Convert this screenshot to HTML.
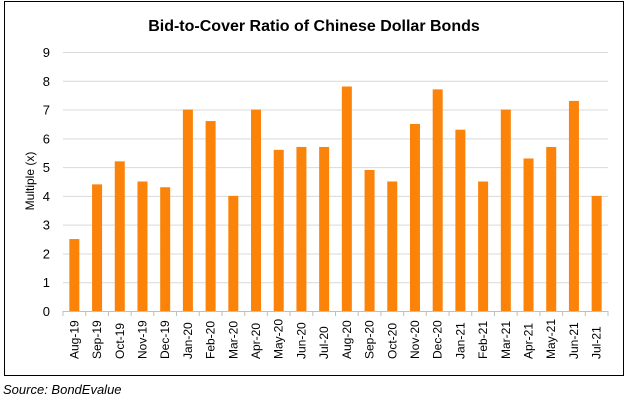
<!DOCTYPE html>
<html><head><meta charset="utf-8"><style>
html,body{margin:0;padding:0;background:#fff;width:628px;height:403px;overflow:hidden}
</style></head><body>
<svg width="628" height="403" xmlns="http://www.w3.org/2000/svg" font-family="Liberation Sans, Arial, sans-serif">
<rect x="4.5" y="1.5" width="619" height="374" fill="#fff" stroke="#000" stroke-width="1"/>
<text x="314" y="31" text-anchor="middle" font-size="16" font-weight="bold" fill="#000">Bid-to-Cover Ratio of Chinese Dollar Bonds</text>
<g id="grid" stroke="#d9d9d9" stroke-width="1"></g>
<g id="ylab" font-size="13" fill="#000" text-anchor="end"></g>
<g id="bars" fill="#fb8309"></g>
<g id="xlab" font-size="12" fill="#000"></g>
<text transform="translate(34,181) rotate(-90)" text-anchor="middle" font-size="12" fill="#000">Multiple (x)</text>
<text x="3" y="394" font-size="13" font-style="italic" fill="#000">Source: BondEvalue</text>
</svg>
<script>
var v=[2.5,4.4,5.2,4.5,4.3,7.0,6.6,4.0,7.0,5.6,5.7,5.7,7.8,4.9,4.5,6.5,7.7,6.3,4.5,7.0,5.3,5.7,7.3,4.0];
var l=["Aug-19","Sep-19","Oct-19","Nov-19","Dec-19","Jan-20","Feb-20","Mar-20","Apr-20","May-20","Jun-20","Jul-20","Aug-20","Sep-20","Oct-20","Nov-20","Dec-20","Jan-21","Feb-21","Mar-21","Apr-21","May-21","Jun-21","Jul-21"];
var ns="http://www.w3.org/2000/svg";
function el(t,a,p,txt){var e=document.createElementNS(ns,t);for(var k in a)e.setAttribute(k,a[k]);if(txt)e.textContent=txt;document.getElementById(p).appendChild(e);}
var x0=63,x1=608,y0=311,u=28.78,w=(x1-x0)/24;
for(var i=0;i<=9;i++){var y=y0-i*u;el("line",{x1:x0,x2:x1,y1:y+.5,y2:y+.5,stroke:i?"#d9d9d9":"#bfbfbf"},"grid");el("text",{x:50,y:y+5},"ylab",""+i);}
for(var i=0;i<=24;i++){var x=x0+i*w;el("line",{x1:x,x2:x,y1:y0,y2:y0+5,stroke:"#bfbfbf"},"grid");}
for(var i=0;i<24;i++){var c=x0+(i+.5)*w;el("rect",{x:c-5,y:y0-v[i]*u,width:10,height:v[i]*u},"bars");
el("text",{transform:"translate("+(c+4)+",359) rotate(-90)"},"xlab",l[i]);}
</script>
</body></html>
